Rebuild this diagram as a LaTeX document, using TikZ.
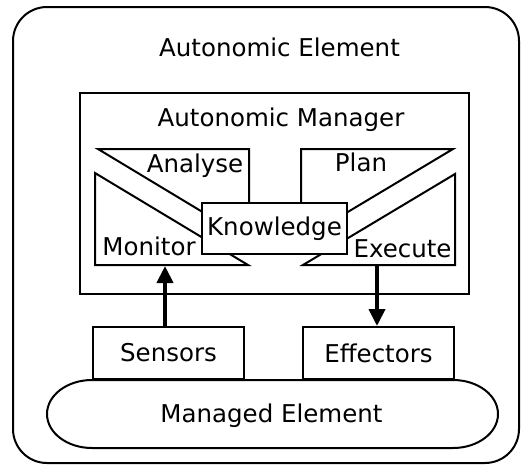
\documentclass[tikz,border=0pt]{standalone}
\usepackage{fontspec}
\setmainfont{DejaVu Sans}
\usetikzlibrary{arrows.meta}

\tikzset{
  part/.style={draw, line width=2pt, fill=white},
  lbl/.style={anchor=base, inner sep=0pt, font=\fontsize{24.5}{29}\selectfont},
  box/.style={part, inner sep=0pt, font=\fontsize{24.5}{29}\selectfont},
  flow/.style={line width=4pt, -{Triangle[width=16pt,length=17pt]}}
}

\begin{document}
\begin{tikzpicture}[x=1pt, y=-1pt, line join=miter]
        \useasboundingbox (0,0) rectangle (522,466);
        % element and manager
        \draw[part, rounded corners=34pt] (13,7) rectangle (519,463);
        \node[lbl] (elem) at (279.5,56) {Autonomic Element};
        \draw[part] (80,93) rectangle (469,294);
        \node[lbl] (mgr) at (281,126) {Autonomic Manager};
        % MAPE loop
        \draw[part] (98,149) -- (249,149) -- (249,240) -- cycle;
        \draw[part] (301,149) -- (453,149) -- (301,240) -- cycle;
        \draw[part] (95,173) -- (95,265) -- (248,265) -- cycle;
        \draw[part] (455,174) -- (455,265) -- (303,265) -- cycle;
        \node[lbl] (analyse) at (195,172) {Analyse};
        \node[lbl] (plan) at (361,171) {Plan};
        \node[lbl] (monitor) at (149,255) {Monitor};
        \node[lbl] (execute) at (402.5,257) {Execute};
        \node[box, minimum width=145pt, minimum height=51pt] (know) at (274.5,228.5) {Knowledge};
        \coordinate (mon) at (165,266);
        \coordinate (exe) at (377,265);
        % touchpoints
        \node[box, minimum width=151pt, minimum height=52pt] (sensors) at (168.5,353) {Sensors};
        \node[box, minimum width=151pt, minimum height=52pt] (effectors) at (378.5,353) {Effectors};
        \draw[part] (92,380) -- (453,380) arc[start angle=-90, end angle=90, x radius=45, y radius=34]
             -- (92,448) arc[start angle=90, end angle=270, x radius=45, y radius=34] -- cycle;
        \node[lbl] (managed) at (271.5,422) {Managed Element};
        \draw[flow] (sensors.north -| mon) -- (mon);
        \draw[flow] (exe) -- (effectors.north -| exe);
    \end{tikzpicture}
\end{document}
